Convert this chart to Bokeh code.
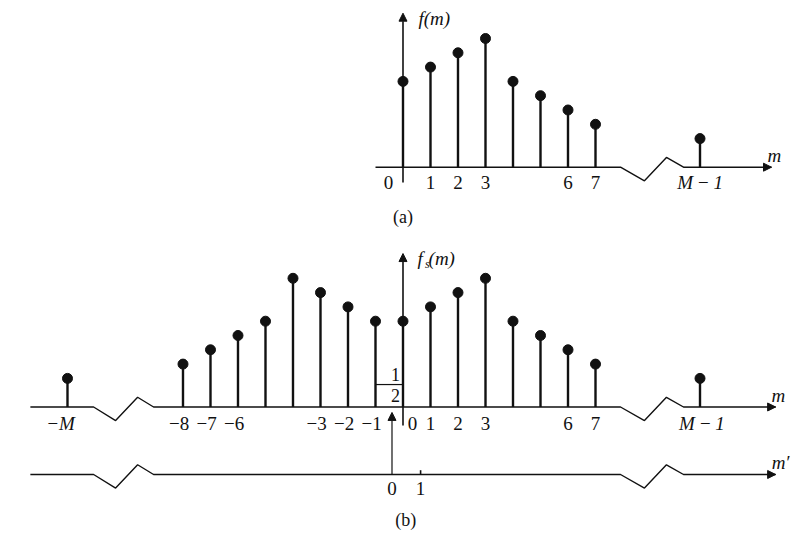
from bokeh.plotting import figure
from bokeh.layouts import column
from bokeh.models import Arrow, NormalHead, ColumnDataSource
from bokeh.core.properties import value
from bokeh.embed import file_html
from bokeh.resources import INLINE

# ---------------- data ----------------
# panel (a): f(m)
A_M = [0, 1, 2, 3, 4, 5, 6, 7]
A_F = [6, 7, 8, 9, 6, 5, 4, 3]
A_TAIL_POS = [10.8]          # position used for m = M-1 (after the axis break)
A_TAIL_F = [2]
A_TICK_M = [0, 1, 2, 3, 6, 7]
A_TICK_TEXT = ["0", "1", "2", "3", "6", "7"]

# panel (b): symmetric extension f_s(m)
B_M = [-8, -7, -6, -5, -4, -3, -2, -1, 0, 1, 2, 3, 4, 5, 6, 7]
B_F = [3, 4, 5, 6, 9, 8, 7, 6, 6, 7, 8, 9, 6, 5, 4, 3]
B_TAIL_POS = [-12.2, 10.8]   # positions used for m = -M and m = M-1
B_TAIL_F = [2, 2]
B_TICK_M = [-8, -7, -6, -3, -2, -1, 0, 1, 2, 3, 6, 7]
B_TICK_TEXT = ["\u22128", "\u22127", "\u22126", "\u22123", "\u22122", "\u22121",
               "0", "1", "2", "3", "6", "7"]
MP_TICK_M = [-0.4, 0.64]     # m' = 0 and m' = 1 on the m scale
MP_TICK_TEXT = ["0", "1"]

# axis-break zigzag shape (x on m scale, y offset)
BREAK_R_X = [7.91, 8.78, 9.58, 10.2]
BREAK_L_X = [-11.25, -10.45, -9.65, -9.07]
BREAK_DY = [0, -0.95, 0.68, 0]

# ---------------- layout constants ----------------
W = 799
XR = (-14.636, 14.418)
SERIF = value("Liberation Serif")
BLACK = "#111111"
MM1 = "M\u2009\u2212\u20091"


def make_fig(h, yr):
    p = figure(width=W, height=h, x_range=XR, y_range=yr, output_backend="svg",
               toolbar_location=None, x_axis_location=None, y_axis_location=None,
               min_border=0, outline_line_color=None,
               background_fill_color="white", border_fill_color="white")
    p.grid.visible = False
    return p


def broken_axis(p, x0, x1, y0, breaks):
    xs = [x0]
    ys = [y0]
    for bx in breaks:
        xs += bx
        ys += [y0 + d for d in BREAK_DY]
    xs.append(x1)
    ys.append(y0)
    p.line(xs, ys, line_color=BLACK, line_width=1.4)
    p.add_layout(Arrow(end=NormalHead(size=8, fill_color=BLACK, line_color=BLACK),
                       x_start=x1 - 0.5, y_start=y0, x_end=x1, y_end=y0,
                       line_alpha=0))


def vaxis(p, x, y0, y1, lw=1.6):
    p.add_layout(Arrow(end=NormalHead(size=8, fill_color=BLACK, line_color=BLACK),
                       x_start=x, y_start=y0, x_end=x, y_end=y1,
                       line_color=BLACK, line_width=lw))


def label(p, xs, ys, texts, size="19px", style="normal", align="center", baseline="middle"):
    p.text(x=xs, y=ys, text=texts, text_font=SERIF, text_font_size=size,
           text_font_style=style, text_align=align, text_baseline=baseline,
           text_color=BLACK)


def stems(p, xs, fs):
    src = ColumnDataSource(dict(x=xs, y0=[0] * len(xs), y=fs))
    p.segment(x0="x", y0="y0", x1="x", y1="y", source=src, line_color=BLACK, line_width=2.4)
    p.scatter(x="x", y="y", source=src, size=10, fill_color=BLACK, line_color=BLACK)


# ---------------- panel (a) ----------------
pa = make_fig(240, (-5.126, 11.657))
broken_axis(pa, -1.0, 13.4, 0, [BREAK_R_X])
vaxis(pa, 0, -1.07, 10.77)
stems(pa, A_M + A_TAIL_POS, A_F + A_TAIL_F)
label(pa, [m - 0.53 if m == 0 else m for m in A_TICK_M], [-1.05] * len(A_TICK_M), A_TICK_TEXT)
label(pa, [A_TAIL_POS[0]], [-1.05], [MM1], style="italic")
label(pa, [13.5], [0.84], ["m"], size="19px", style="italic")
label(pa, [0.56], [10.42], ["f(m)"], size="19px", style="italic", align="left")
label(pa, [0.0], [-3.45], ["(a)"], size="18px")

# ---------------- panel (b) ----------------
pb = make_fig(299, (-9.266, 11.643))
broken_axis(pb, -13.55, 13.55, 0, [BREAK_L_X, BREAK_R_X])
mp_y = -4.72
broken_axis(pb, -13.55, 13.55, mp_y, [BREAK_L_X, BREAK_R_X])
vaxis(pb, 0, -1.29, 10.73)
stems(pb, B_M + B_TAIL_POS, B_F + B_TAIL_F)

bx = []
for m in B_TICK_M:
    if m < 0:
        bx.append(m - 0.14)
    elif m == 0:
        bx.append(0.35)
    else:
        bx.append(m)
label(pb, bx, [-1.14] * len(B_TICK_M), B_TICK_TEXT)
label(pb, [B_TAIL_POS[0] - 0.25, B_TAIL_POS[1] + 0.07], [-1.14, -1.14],
      ["\u2212M", MM1], style="italic")
label(pb, [13.65], [0.82], ["m"], size="19px", style="italic")
# f_s(m)
label(pb, [0.53], [10.38], ["f"], size="19px", style="italic", align="left")
label(pb, [0.8], [9.98], ["s"], size="12px", style="italic", align="left")
label(pb, [0.93], [10.38], ["(m)"], size="19px", style="italic", align="left")

# 1/2 marker between -1 and 0
pb.segment(x0=[-1.0], y0=[1.57], x1=[0.0], y1=[1.57], line_color=BLACK, line_width=1.2)
label(pb, [-0.27, -0.27], [2.3, 0.78], ["1", "2"], size="18px")

# m' axis: arrow from m'=0 up to the m axis, tick at m'=1
vaxis(pb, MP_TICK_M[0], mp_y, -0.38, lw=1.2)
pb.segment(x0=[MP_TICK_M[1]], y0=[mp_y], x1=[MP_TICK_M[1]], y1=[mp_y + 0.3],
           line_color=BLACK, line_width=1.6)
label(pb, MP_TICK_M, [-5.70, -5.70], MP_TICK_TEXT)
label(pb, [13.73], [-3.86], ["m\u2032"], size="19px", style="italic")
label(pb, [0.1], [-7.88], ["(b)"], size="18px")

layout = column(pa, pb)
open("out.html", "w").write(file_html(layout, INLINE))
